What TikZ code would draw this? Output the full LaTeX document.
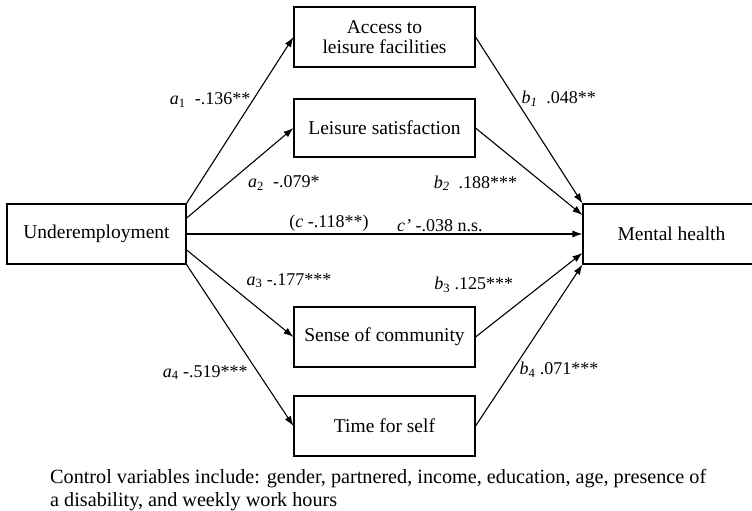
\documentclass[tikz,border=0pt]{standalone}
\usepackage{fontspec}
\setmainfont{Liberation Serif}
\usetikzlibrary{positioning,arrows.meta}

\begin{document}
\begin{tikzpicture}
		[x=1pt,y=-1pt,node distance=91pt,on grid,>={Latex[length=10pt,width=7pt]},
		box/.style={draw,line width=1.1pt,minimum width=181pt,minimum height=60pt,align=center,font=\fontsize{19.5}{20.5}\selectfont},
		coef/.style={font=\fontsize{18}{20}\selectfont,inner sep=2pt}]
		\useasboundingbox (0,0) rectangle (752,511);
		\node[box,minimum width=179pt] (under) at (96.5,234) {Underemployment};
		\node[box,minimum width=177pt] (mental) at (671.5,234) {Mental health};
		\node[box] (access) at (384.5,37) {Access to\\leisure facilities};
		\node[box,minimum height=58pt] (lsat) [below=of access] {Leisure satisfaction};
		\node[box] (sense) [below=209pt of lsat] {Sense of community};
		\node[box] (tself) [below=89pt of sense] {Time for self};
		\path[->,line width=1.1pt]
		(under.north east) edge node[coef,pos=0.62,anchor=east] {\textit{a}\textsubscript{1}\ \ -.136**} (access.west)
		(under.10) edge node[coef,pos=0.6,anchor=north west,xshift=-5pt,yshift=-9pt] {\textit{a}\textsubscript{2}\ \ -.079*} (lsat.west)
		(under.east) edge node[coef,pos=0.36,anchor=south] {(\textit{c} -.118**)}
				node[coef,pos=0.64,anchor=south] {\textit{c’} -.038 n.s.} (mental.west)
		(under.-10) edge node[coef,pos=0.5,anchor=south west,xshift=4pt,yshift=3pt] {\textit{a}\textsubscript{3} -.177***} (sense.west)
		(under.south east) edge node[coef,pos=0.67,anchor=east,xshift=-8pt] {\textit{a}\textsubscript{4} -.519***} (tself.west)
		(access.east) edge node[coef,pos=0.37,anchor=west,xshift=4pt] {\textit{b}\textsubscript{\textit{1}}\ \ .048**} (mental.north west)
		(lsat.east) edge node[coef,pos=0.45,anchor=north east,xshift=-4pt,yshift=-6pt] {\textit{b}\textsubscript{\textit{2}}\ \ .188***} (mental.168)
		(sense.east) edge node[coef,pos=0.45,anchor=south east,xshift=-8pt,yshift=4pt] {\textit{b}\textsubscript{3} .125***} (mental.192)
		(tself.east) edge node[coef,pos=0.35,anchor=west,xshift=4pt] {\textit{b}\textsubscript{4} .071***} (mental.south west)
		;
		\node[anchor=north west,align=left,inner sep=0pt,font=\fontsize{20.2}{23}\selectfont] (note) at (50,469)
		{Control variables include: gender, partnered, income, education, age, presence of\\a disability, and weekly work hours};
		\end{tikzpicture}
\end{document}
